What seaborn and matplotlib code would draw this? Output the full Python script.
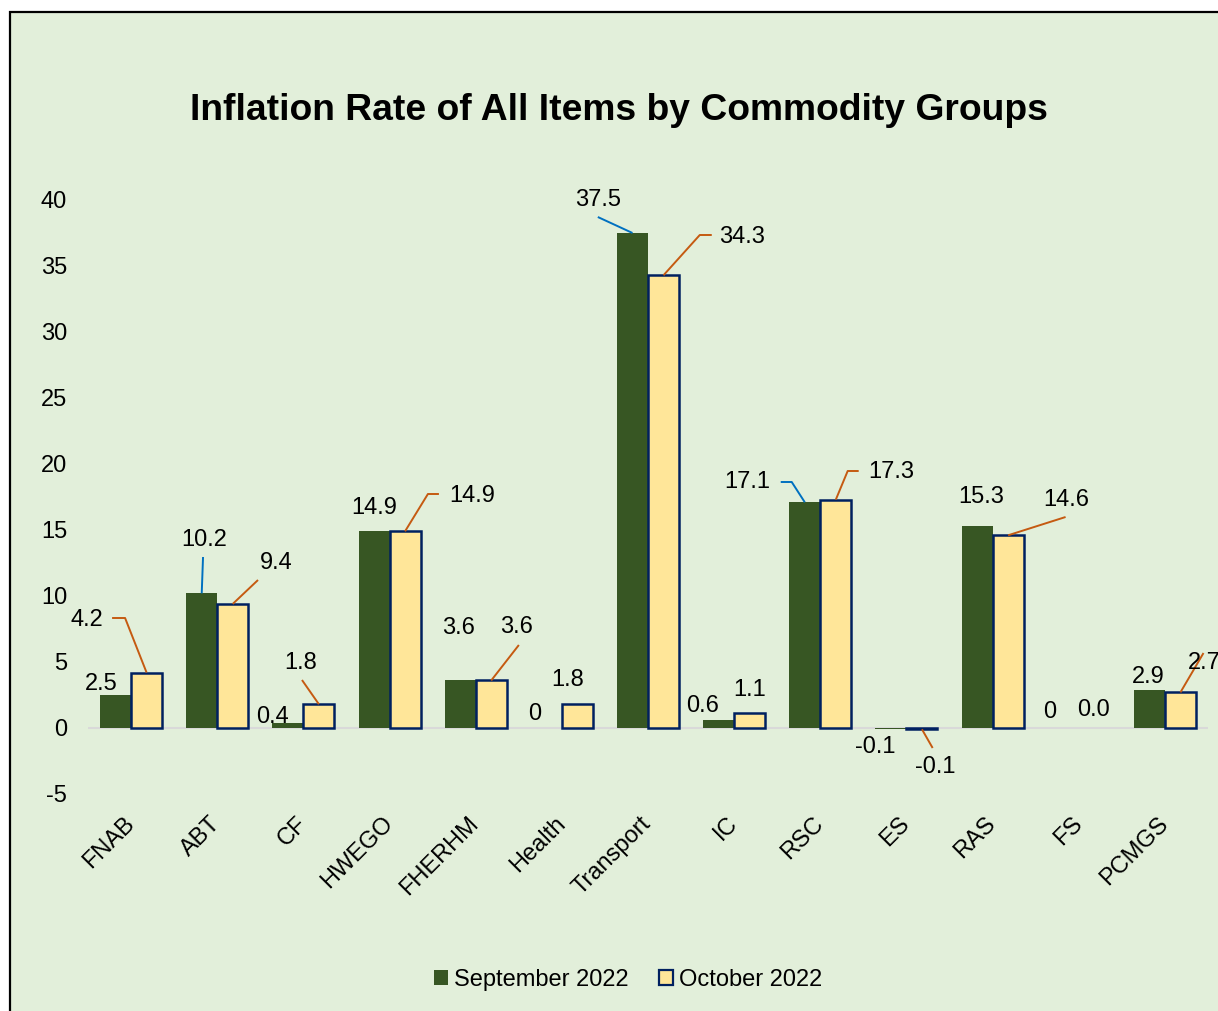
import matplotlib
matplotlib.use("Agg")
import matplotlib.pyplot as plt
from matplotlib.patches import Rectangle, Patch
import seaborn as sns
import pandas as pd

# ---- data ----
categories = ["FNAB", "ABT", "CF", "HWEGO", "FHERHM", "Health", "Transport",
              "IC", "RSC", "ES", "RAS", "FS", "PCMGS"]
sep_2022 = [2.5, 10.2, 0.4, 14.9, 3.6, 0, 37.5, 0.6, 17.1, -0.1, 15.3, 0, 2.9]
oct_2022 = [4.2, 9.4, 1.8, 14.9, 3.6, 1.8, 34.3, 1.1, 17.3, -0.1, 14.6, 0.0, 2.7]
sep_text = ["2.5", "10.2", "0.4", "14.9", "3.6", "0", "37.5", "0.6", "17.1", "-0.1", "15.3", "0", "2.9"]
oct_text = ["4.2", "9.4", "1.8", "14.9", "3.6", "1.8", "34.3", "1.1", "17.3", "-0.1", "14.6", "0.0", "2.7"]
series_names = ["September 2022", "October 2022"]
y_ticks = [-5, 0, 5, 10, 15, 20, 25, 30, 35, 40]

# ---- style ----
W, H = 1218, 1011
BG = "#E2EFDA"
GREEN = "#375623"
YELLOW = "#FFE699"
NAVY = "#002060"
BLUE_LEAD = "#0070C0"
ORANGE_LEAD = "#C55A11"
FONT = "Liberation Sans"
FS = 17

sns.set_theme(style="white")
plt.rcParams["font.family"] = [FONT, "DejaVu Sans"]
plt.rcParams["text.color"] = "black"
plt.rcParams["xtick.color"] = "black"
plt.rcParams["ytick.color"] = "black"

fig = plt.figure(figsize=(W / 100, H / 100), dpi=100, facecolor="white")
bg_rect = Rectangle((10 / W, -0.01), 1.02, 1 - 12 / H + 0.01,
                    transform=fig.transFigure, facecolor=BG,
                    edgecolor="black", linewidth=1.6, zorder=-10)
fig.patches.append(bg_rect)

ax_l, ax_r, ax_b, ax_t = 88, 1208, 794, 200
ax = fig.add_axes([ax_l / W, 1 - ax_b / H, (ax_r - ax_l) / W, (ax_b - ax_t) / H])
ax.set_facecolor("none")
ax.set_zorder(1)

df = pd.DataFrame({
    "cat": categories * 2,
    "series": [series_names[0]] * len(categories) + [series_names[1]] * len(categories),
    "value": sep_2022 + oct_2022,
})
sns.barplot(data=df, x="cat", y="value", hue="series", order=categories,
            hue_order=series_names, palette=[GREEN, YELLOW], width=0.72,
            saturation=1, errorbar=None, legend=False, ax=ax, zorder=3)
for bar in ax.containers[0]:
    bar.set_edgecolor("none")
for bar, v in zip(ax.containers[1], oct_2022):
    if v == 0:
        bar.set_visible(False)
    else:
        bar.set_edgecolor(NAVY)
        bar.set_linewidth(1.8)

ax.axhline(0, color="#D9D9D9", lw=1.5, zorder=2)
ax.set_xlim(-0.5, len(categories) - 0.5)
ax.set_ylim(-5, 40)
ax.set_yticks(y_ticks)
ax.set_yticklabels([str(t) for t in y_ticks], fontsize=FS, color="black")
ax.set_xlabel("")
ax.set_ylabel("")
for s in ax.spines.values():
    s.set_visible(False)
ax.tick_params(axis="y", length=0, pad=15)
ax.tick_params(axis="x", length=0, pad=19)
ax.set_xticks(range(len(categories)))
ax.set_xticklabels(categories, fontsize=FS, rotation=45, ha="right", va="center",
                   rotation_mode="anchor", color="black")

# ---- data labels (layout in pixel coords of the reference) ----
def px(xp, yp):
    return ((xp - 131) / 86.2, (728 - yp) / 13.2)

# label centre, leader polyline start points (pixel coords); None = no leader
sep_layout = [
    ((101, 684), None),
    ((204, 540), [(203, 557)]),
    ((272, 717), None),
    ((374, 508), None),
    ((459, 628), None),
    ((535, 714), None),
    ((598, 200), [(598, 217)]),
    ((703, 706), None),
    ((748, 482), [(781, 482), (792, 482)]),
    ((876, 747), None),
    ((982, 497), None),
    ((1050, 712), None),
    ((1149, 677), None),
]
oct_layout = [
    ((87, 620), [(112, 618), (125, 618)]),
    ((276, 563), [(258, 580)]),
    ((301, 663), [(302, 680)]),
    ((472, 496), [(439, 494), (428, 494)]),
    ((517, 627), [(519, 645)]),
    ((568, 680), None),
    ((742, 237), [(712, 235), (700, 235)]),
    ((750, 690), None),
    ((892, 472), [(859, 471), (848, 471)]),
    ((936, 767), [(933, 748)]),
    ((1067, 500), [(1066, 517)]),
    ((1094, 710), None),
    ((1205, 663), [(1204, 653)]),
]

half = 0.72 / 4
for vals, texts, layout, off, col in [
        (sep_2022, sep_text, sep_layout, -half, BLUE_LEAD),
        (oct_2022, oct_text, oct_layout, half, ORANGE_LEAD)]:
    for i, (v, t, (lpos, lead)) in enumerate(zip(vals, texts, layout)):
        lx, ly = px(*lpos)
        ax.text(lx, ly, t, ha="center", va="center", fontsize=FS,
                color="black", zorder=6, clip_on=False)
        if lead:
            pts = [px(*p) for p in lead] + [(i + off, v)]
            ax.plot([p[0] for p in pts], [p[1] for p in pts], color=col,
                    lw=1.4, zorder=5, clip_on=False, solid_capstyle="butt")

# ---- title ----
fig.text(619 / W, 1 - 110 / H, "Inflation Rate of All Items by Commodity Groups",
         ha="center", va="center", fontsize=26.8, fontweight="bold", color="black")

# ---- legend ----
handles = [Patch(facecolor=GREEN, edgecolor="none"),
           Patch(facecolor=YELLOW, edgecolor=NAVY, linewidth=1.6)]
leg = fig.legend(handles, series_names, loc="center", bbox_to_anchor=(628 / W, 1 - 980 / H),
                 ncol=2, frameon=False, fontsize=FS, handlelength=0.6, handleheight=0.6,
                 handletextpad=0.25, columnspacing=1.3)
for t in leg.get_texts():
    t.set_color("black")

fig.savefig("out.png", dpi=100, facecolor="white")
